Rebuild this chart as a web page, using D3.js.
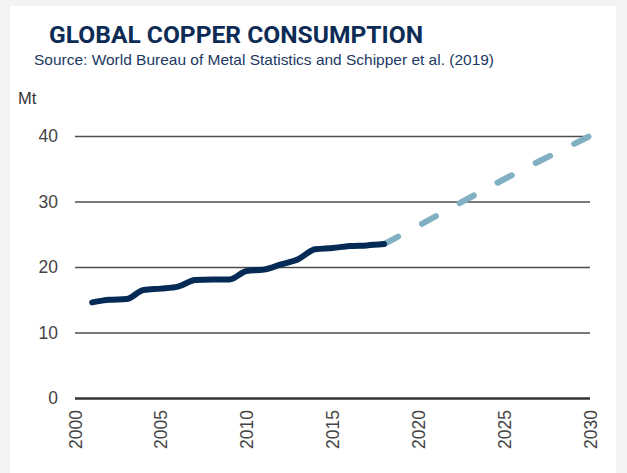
<!DOCTYPE html>
<html>
<head>
<meta charset="utf-8">
<script src="https://cdn.jsdelivr.net/npm/d3@7"></script>
<style>
  body { margin: 0; background: #f3f3f3; }
  svg { display: block; }
</style>
</head>
<body>
<div id="chart"></div>
<script>
/* data */
const histYears  = [2001, 2002, 2003, 2004, 2005, 2006, 2007, 2008, 2009, 2010, 2011, 2012, 2013, 2014, 2015, 2016, 2017, 2018];
const histValues = [14.6, 15.0, 15.1, 16.5, 16.7, 17.0, 18.0, 18.1, 18.1, 19.4, 19.6, 20.4, 21.2, 22.7, 22.9, 23.2, 23.3, 23.5];
const projYears  = [2018, 2020, 2025, 2030];
const projValues = [23.5, 26.3, 33.4, 40.0];
const yTicks = [0, 10, 20, 30, 40];
const xTicks = [2000, 2005, 2010, 2015, 2020, 2025, 2030];

const W = 627, H = 473;
const margin = { top: 136, right: 37, bottom: 75, left: 75 };
const width = W - margin.left - margin.right,
      height = 398 - margin.top;
const sans = "'Liberation Sans', Arial, sans-serif";

const svg = d3.select("#chart").append("svg")
    .attr("width", W).attr("height", H);

/* white panel */
svg.append("rect").attr("x", 10).attr("y", 6).attr("width", 606).attr("height", H - 6)
    .attr("fill", "#ffffff");

/* titles */
svg.append("text").attr("x", 49).attr("y", 43)
    .attr("font-family", "Roboto, 'Liberation Sans', sans-serif")
    .attr("font-weight", 700).attr("font-size", 24)
    .attr("textLength", 374).attr("lengthAdjust", "spacingAndGlyphs")
    .attr("fill", "#0c2b55")
    .text("GLOBAL COPPER CONSUMPTION");
svg.append("text").attr("x", 34).attr("y", 65)
    .attr("font-family", sans)
    .attr("font-size", 15)
    .attr("textLength", 460).attr("lengthAdjust", "spacingAndGlyphs")
    .attr("fill", "#1b3963")
    .text("Source: World Bureau of Metal Statistics and Schipper et al. (2019)");
svg.append("text").attr("x", 18).attr("y", 104)
    .attr("font-family", sans)
    .attr("font-size", 16.5)
    .attr("fill", "#333")
    .text("Mt");

const g = svg.append("g").attr("transform", `translate(${margin.left}, ${margin.top})`);

const x = d3.scaleLinear().domain([2000, 2030]).range([0, width]);
const y = d3.scaleLinear().domain([0, 40]).range([height, 0]);

/* gridlines + y labels */
const yAxis = g.append("g")
    .call(d3.axisLeft(y).tickValues(yTicks).tickSize(-width).tickPadding(17).tickFormat(d3.format("d")));
yAxis.select(".domain").remove();
yAxis.selectAll(".tick line")
    .attr("stroke", d => d === 0 ? "#333" : "#4d4d4d")
    .attr("stroke-width", d => d === 0 ? 2.5 : 1.3);
yAxis.selectAll(".tick text")
    .attr("font-family", sans)
    .attr("font-size", 17.5).attr("fill", "#444");

/* x labels, rotated */
const xAxis = g.append("g").attr("transform", `translate(0, ${height})`)
    .call(d3.axisBottom(x).tickValues(xTicks).tickSize(0).tickFormat(d3.format("d")));
xAxis.select(".domain").remove();
xAxis.selectAll(".tick text")
    .attr("font-family", sans)
    .attr("font-size", 17.5).attr("fill", "#444")
    .attr("transform", "rotate(-90)")
    .attr("text-anchor", "end")
    .attr("x", -12).attr("y", 0).attr("dy", "0.35em");

const line = d3.line().curve(d3.curveMonotoneX)
    .x(d => x(d[0])).y(d => y(d[1]));

/* projection, dashed */
g.append("path")
    .datum(d3.zip(projYears, projValues))
    .attr("fill", "none")
    .attr("stroke", "#80b0c2")
    .attr("stroke-width", 6)
    .attr("stroke-linecap", "round")
    .attr("stroke-dasharray", "16,27")
    .attr("d", line);

/* history, solid */
g.append("path")
    .datum(d3.zip(histYears, histValues))
    .attr("fill", "none")
    .attr("stroke", "#052a56")
    .attr("stroke-width", 6)
    .attr("stroke-linecap", "round")
    .attr("stroke-linejoin", "round")
    .attr("d", line);
</script>
</body>
</html>
